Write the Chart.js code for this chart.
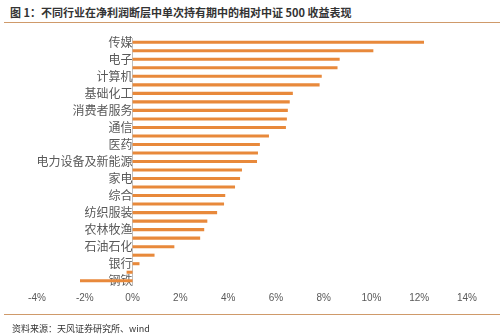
<!DOCTYPE html>
<html>
<head>
<meta charset="utf-8">
<script src="https://cdn.jsdelivr.net/npm/chart.js@4.4.0/dist/chart.umd.min.js"></script>
<style>
  html, body { margin: 0; padding: 0; background: #fff; }
  #wrap { position: relative; width: 504px; height: 334px; overflow: hidden; font-family: "Noto Sans CJK SC", "Noto Sans", sans-serif; }
  #title { position: absolute; left: 10px; top: 4px; font-size: 11px; font-weight: bold; color: #333; white-space: nowrap; }
  .rule { position: absolute; left: 4px; width: 496px; height: 1px; background: #cf9a6a; }
  #source { position: absolute; left: 12px; top: 322px; font-size: 9px; color: #333; white-space: nowrap; }
  canvas { position: absolute; left: 0; top: 0; }
</style>
</head>
<body>
<div id="wrap">
  <div id="title">图 1：不同行业在净利润断层中单次持有期中的相对中证 500 收益表现</div>
  <div class="rule" style="top:22px"></div>
  <canvas id="chart" width="504" height="334"></canvas>
  <div class="rule" style="top:314px"></div>
  <div id="source">资料来源：天风证券研究所、wind</div>
</div>
<script>
// 行业（只有偶数位的行业在图上标注）
const industries = [
  "传媒", "", "电子", "", "计算机", "", "基础化工", "", "消费者服务", "",
  "通信", "", "医药", "", "电力设备及新能源", "", "家电", "", "综合", "",
  "纺织服装", "", "农林牧渔", "", "石油石化", "", "银行", "", "钢铁"
];
// 相对中证500超额收益（%）
const excessReturn = [
  12.2, 10.08, 8.67, 8.58, 7.92, 7.83, 6.71, 6.58, 6.5, 6.46,
  6.42, 5.71, 5.33, 5.25, 5.21, 4.58, 4.5, 4.29, 3.88, 3.83,
  3.54, 3.13, 3.0, 2.83, 1.75, 0.92, 0.29, -0.25, -2.2
];
const xMin = -4;
const xMax = 14;
const xStep = 2;

const labelColor = "#595959";

new Chart(document.getElementById("chart"), {
  type: "bar",
  data: {
    labels: industries,
    datasets: [{
      data: excessReturn,
      backgroundColor: "#e8893b",
      borderWidth: 0,
      categoryPercentage: 1,
      barPercentage: 0.36
    }]
  },
  options: {
    indexAxis: "y",
    responsive: false,
    animation: false,
    layout: { padding: { left: 37, right: 37, top: 38, bottom: 23 } },
    plugins: { legend: { display: false }, tooltip: { enabled: false } },
    scales: {
      x: {
        min: xMin,
        max: xMax,
        grid: { display: false, drawTicks: false },
        border: { display: false },
        ticks: {
          stepSize: xStep,
          padding: 7,
          color: labelColor,
          font: { size: 10, family: "Liberation Sans, Arial, sans-serif" },
          callback: (v) => v + "%"
        }
      },
      y: {
        position: { x: 0 },
        grid: { display: true, color: "rgba(0,0,0,0)", drawTicks: false },
        border: { display: true, color: "#bfbfbf", width: 1 },
        ticks: {
          autoSkip: false,
          padding: 9,
          color: labelColor,
          font: { size: 12, family: "Noto Sans CJK SC, sans-serif" }
        }
      }
    }
  }
});
</script>
</body>
</html>
